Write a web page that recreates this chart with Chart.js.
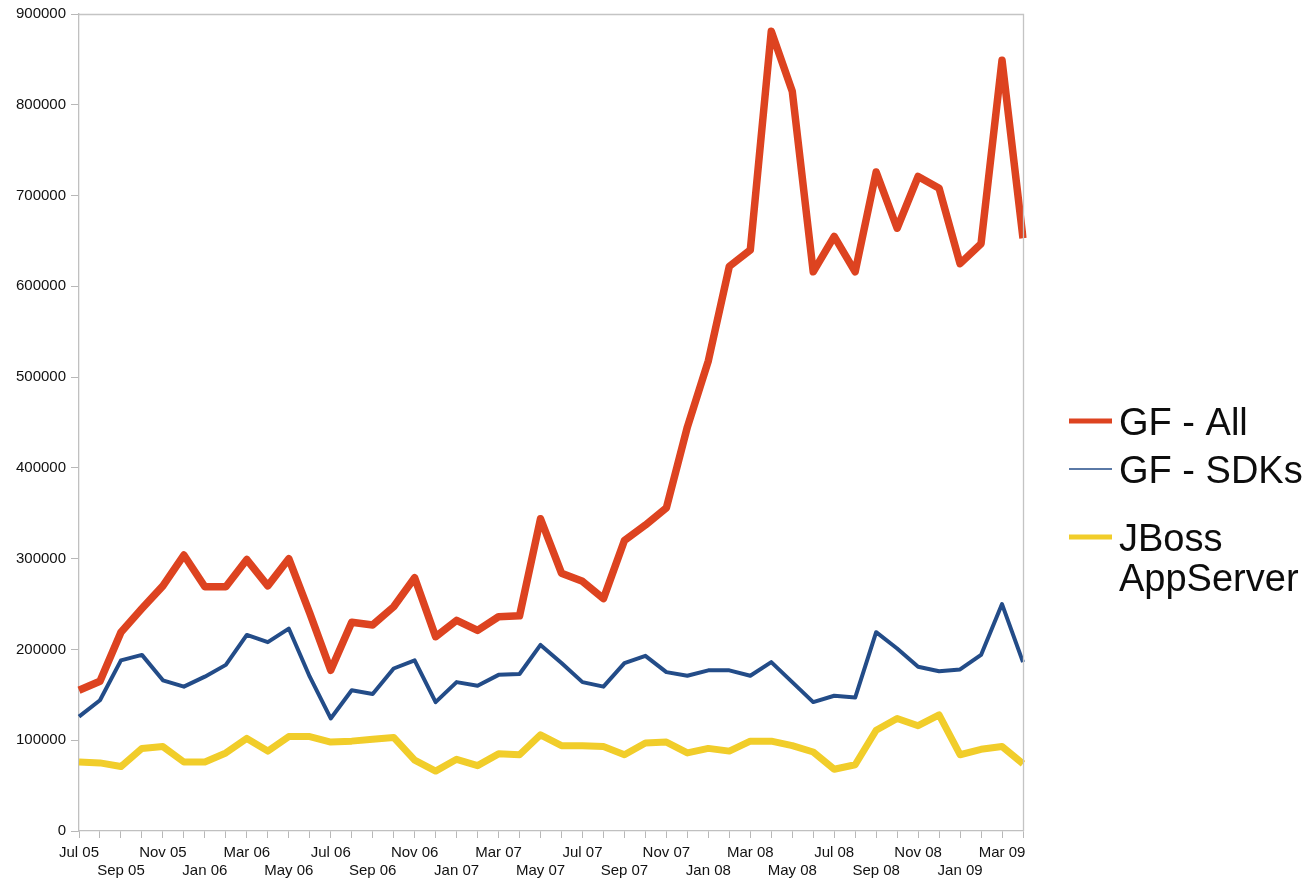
<!DOCTYPE html>
<html>
<head>
<meta charset="utf-8">
<script src="https://cdn.jsdelivr.net/npm/chart.js@4/dist/chart.umd.min.js"></script>
<style>
  html, body { margin: 0; padding: 0; background: #ffffff; }
  #wrap { width: 1313px; height: 880px; position: relative; }
</style>
</head>
<body>
<div id="wrap"><canvas id="c" width="1313" height="880"></canvas></div>
<script>
const months = [
  'Jul 05','Aug 05','Sep 05','Oct 05','Nov 05','Dec 05',
  'Jan 06','Feb 06','Mar 06','Apr 06','May 06','Jun 06','Jul 06','Aug 06','Sep 06','Oct 06','Nov 06','Dec 06',
  'Jan 07','Feb 07','Mar 07','Apr 07','May 07','Jun 07','Jul 07','Aug 07','Sep 07','Oct 07','Nov 07','Dec 07',
  'Jan 08','Feb 08','Mar 08','Apr 08','May 08','Jun 08','Jul 08','Aug 08','Sep 08','Oct 08','Nov 08','Dec 08',
  'Jan 09','Feb 09','Mar 09','Apr 09'
];

const gfAll = [
  155000,165000,219000,245000,270000,304000,
  269000,269000,299000,270000,300000,240000,177000,230000,227000,247000,279000,214000,
  232000,221000,236000,237000,344000,284000,275000,256000,320000,337000,356000,445000,
  518000,622000,640000,881000,815000,616000,655000,616000,726000,664000,721000,708000,
  625000,647000,849000,653000
];

const gfSdks = [
  126000,144000,188000,194000,166000,159000,
  170000,183000,216000,208000,223000,170000,124000,155000,151000,179000,188000,142000,
  164000,160000,172000,173000,205000,185000,164000,159000,185000,193000,175000,171000,
  177000,177000,171000,186000,164000,142000,149000,147000,219000,201000,181000,176000,
  178000,194000,250000,186000
];

const jboss = [
  76000,75000,71000,91000,93000,76000,
  76000,86000,102000,88000,104000,104000,98000,99000,101000,103000,78000,66000,
  79000,72000,85000,84000,106000,94000,94000,93000,84000,97000,98000,86000,
  91000,88000,99000,99000,94000,87000,68000,73000,111000,124000,116000,128000,
  84000,90000,93000,74000
];

const seriesNames = ['GF - All', 'GF - SDKs', 'JBoss AppServer'];
const legendLines = [['GF - All'], ['GF - SDKs'], ['JBoss', 'AppServer']];

const FONT = "'Liberation Sans', Arial, Helvetica, sans-serif";

const sideLegend = {
  id: 'sideLegend',
  afterDraw(chart, args, opts) {
    const ctx = chart.ctx;
    ctx.save();
    chart.data.datasets.forEach((ds, i) => {
      const y = opts.rows[i];
      ctx.strokeStyle = ds.borderColor;
      ctx.lineWidth = opts.swatchWidths[i];
      ctx.lineCap = 'butt';
      ctx.beginPath();
      ctx.moveTo(opts.x0, y);
      ctx.lineTo(opts.x1, y);
      ctx.stroke();
      ctx.fillStyle = '#0d0d0d';
      ctx.font = opts.fontSize + 'px ' + FONT;
      ctx.textBaseline = 'alphabetic';
      ctx.textAlign = 'left';
      legendLines[i].forEach((t, k) => {
        ctx.fillText(t, opts.textX, y + opts.baselineOffset + k * opts.lineGap);
      });
    });
    ctx.restore();
  }
};

const frame = {
  id: 'frame',
  afterDraw(chart) {
    const a = chart.chartArea, ctx = chart.ctx;
    ctx.save();
    ctx.strokeStyle = '#c4c4c4';
    ctx.lineWidth = 1.3;
    ctx.beginPath();
    ctx.moveTo(a.left, a.top + 0.5);
    ctx.lineTo(a.right + 0.5, a.top + 0.5);
    ctx.lineTo(a.right + 0.5, a.bottom);
    ctx.stroke();
    ctx.restore();
  }
};

new Chart(document.getElementById('c'), {
  type: 'line',
  data: {
    labels: months,
    datasets: [
      { label: seriesNames[0], data: gfAll, borderColor: '#DD4320', borderWidth: 7.5,
        pointRadius: 0, tension: 0, borderJoinStyle: 'round', fill: false },
      { label: seriesNames[1], data: gfSdks, borderColor: '#234C88', borderWidth: 4,
        pointRadius: 0, tension: 0, borderJoinStyle: 'round', fill: false },
      { label: seriesNames[2], data: jboss, borderColor: '#F1CD2A', borderWidth: 7,
        pointRadius: 0, tension: 0, borderJoinStyle: 'round', fill: false }
    ]
  },
  options: {
    responsive: false,
    animation: false,
    events: [],
    layout: { padding: { top: 14, right: 290, left: 0, bottom: 0 } },
    plugins: {
      legend: { display: false },
      tooltip: { enabled: false },
      sideLegend: {
        x0: 1069, x1: 1112, textX: 1119,
        rows: [421, 469, 537],
        swatchWidths: [5, 1.6, 5],
        fontSize: 38, baselineOffset: 13.5, lineGap: 40
      }
    },
    scales: {
      x: {
        type: 'category',
        offset: false,
        grid: { display: true, drawOnChartArea: false, drawTicks: true, tickLength: 7, color: '#b8b8b8', lineWidth: 1 },
        border: { display: true, color: '#c0c0c0', width: 1.3 },
        ticks: {
          autoSkip: false, maxRotation: 0, minRotation: 0, padding: 6,
          color: '#111', font: { family: FONT, size: 15, lineHeight: 1.18 },
          callback: function(v, i) {
            const lab = this.getLabelForValue(v);
            if (i % 4 === 0) return [lab];
            if (i % 4 === 2) return ['', lab];
            return '';
          }
        },
        afterFit: s => { s.height = 49; }
      },
      y: {
        min: 0, max: 900000,
        grid: { display: true, drawOnChartArea: false, drawTicks: true, tickLength: 8, color: '#b8b8b8', lineWidth: 1 },
        border: { display: true, color: '#c0c0c0', width: 1.3 },
        ticks: { stepSize: 100000, padding: 5, color: '#111',
                 font: { family: FONT, size: 15 },
                 callback: v => String(v) },
        afterFit: s => { s.width = 79; }
      }
    }
  },
  plugins: [sideLegend, frame]
});
</script>
</body>
</html>
